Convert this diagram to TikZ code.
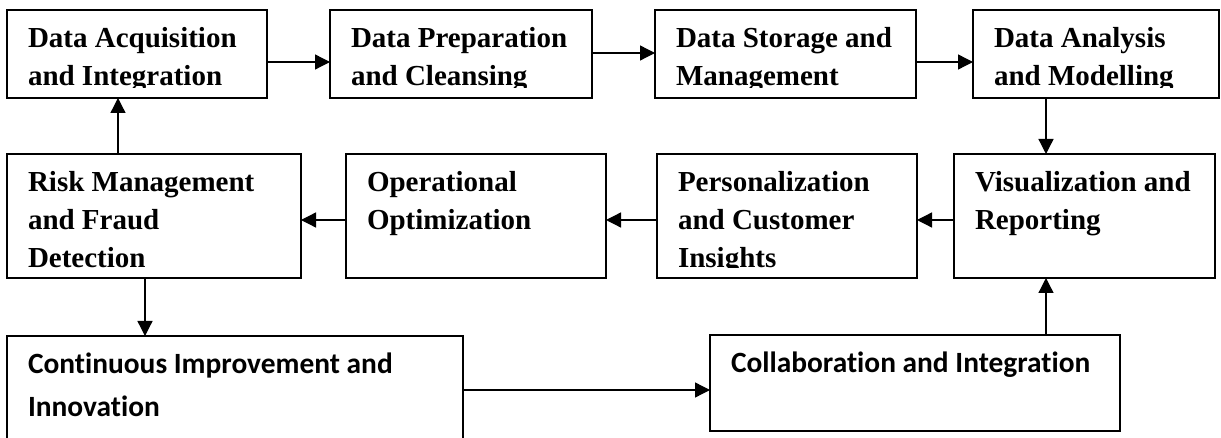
\documentclass[tikz,border=0pt]{standalone}
\usepackage{fontspec}
\setmainfont{Liberation Serif}
\newfontfamily\calibrifont[Ligatures=NoCommon]{Carlito}
\usetikzlibrary{arrows.meta}

\tikzset{
  flow/.style={line width=1.3pt, -{Triangle[length=15pt,width=15pt]}},
  boxtext/.style={anchor=north west, align=left, inner sep=0pt, minimum width=0pt, minimum height=0pt, draw=none},
  % serif boxes, text clipped 10pt above the bottom edge
  stage/.style={draw, line width=1.4pt, anchor=north west, inner sep=0pt, outer sep=0pt,
    path picture={
      \clip ([yshift=10pt]path picture bounding box.south west) rectangle (path picture bounding box.north east);
      \node[boxtext, font=\bfseries\fontsize{29}{38}\selectfont]
        (stagetext) at ([xshift=21pt,yshift=-11.4pt]path picture bounding box.north west) {\strut #1};
    }},
  widestage/.style={draw, line width=1.1pt, anchor=north west, inner sep=0pt, outer sep=0pt,
    path picture={
      \node[boxtext, font=\calibrifont\bfseries\fontsize{29.4}{43}\selectfont]
        (widetext) at ([xshift=21pt,yshift=-6.9pt]path picture bounding box.north west) {\strut #1};
    }},
}

\begin{document}
\begin{tikzpicture}[x=1pt, y=-1pt]
  \fill[white] (0,0) rectangle (1221,438);
  \useasboundingbox (0,0) rectangle (1221,438);

  % top row
  \node[stage={Data Acquisition\\and Integration}, minimum width=260pt, minimum height=88pt] (acq) at (7,10) {};
  \node[stage={Data Preparation\\and Cleansing}, minimum width=262pt, minimum height=88pt] (prep) at (330,10) {};
  \node[stage={Data Storage and\\Management}, minimum width=261pt, minimum height=88pt] (store) at (655,10) {};
  \node[stage={Data Analysis\\and Modelling}, minimum width=246pt, minimum height=88pt] (model) at (973,10) {};

  % middle row
  \node[stage={Risk Management\\and Fraud\\Detection}, minimum width=294pt, minimum height=124pt] (risk) at (7,154) {};
  \node[stage={Operational\\Optimization}, minimum width=260pt, minimum height=124pt] (oper) at (346,154) {};
  \node[stage={Personalization\\and Customer\\Insights}, minimum width=260pt, minimum height=124pt] (pers) at (657,154) {};
  \node[stage={Visualization and\\Reporting}, minimum width=261pt, minimum height=124pt] (viz) at (954,154) {};

  % bottom row
  \node[widestage={Continuous Improvement and\\Innovation}, minimum width=456pt, minimum height=108pt] (improve) at (7,336) {};
  \node[widestage={Collaboration and Integration}, minimum width=410pt, minimum height=96pt] (collab) at (710,335) {};

  \draw[flow] ([yshift=-8pt]acq.east) -- ([yshift=-8pt]prep.west);
  \draw[flow] ([yshift=1pt]prep.east) -- ([yshift=1pt]store.west);
  \draw[flow] ([yshift=-8pt]store.east) -- ([yshift=-8pt]model.west);
  \draw[flow] ([xshift=73pt]model.south west) -- ([xshift=92pt]viz.north west);
  \draw[flow] ([yshift=-4pt]viz.west) -- ([yshift=-4pt]pers.east);
  \draw[flow] ([yshift=-4pt]pers.west) -- ([yshift=-4pt]oper.east);
  \draw[flow] ([yshift=-4pt]oper.west) -- ([yshift=-4pt]risk.east);
  \draw[flow] ([xshift=111pt]risk.north west) -- ([xshift=111pt]acq.south west);
  \draw[flow] ([xshift=138pt]risk.south west) -- ([xshift=138pt]improve.north west);
  \draw[flow] (improve.east) -- ([yshift=-7pt]collab.west);
  \draw[flow] ([xshift=336pt]collab.north west) -- ([xshift=92pt]viz.south west);
\end{tikzpicture}
\end{document}
